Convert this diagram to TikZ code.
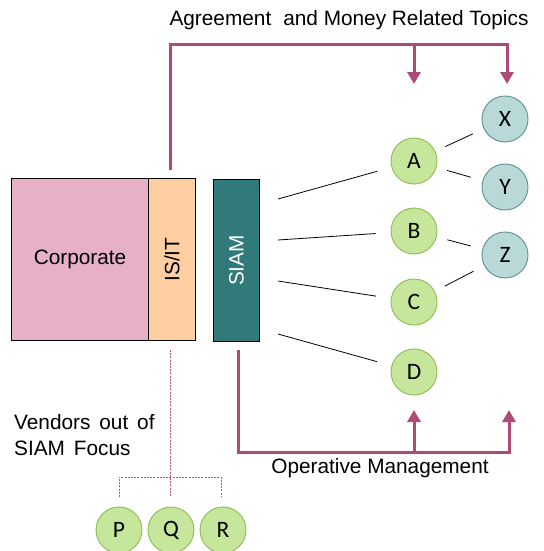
\documentclass[tikz,border=0pt]{standalone}
\usepackage{fontspec}
\setmainfont{Liberation Sans}
\newfontfamily\circfont{Carlito}
\usetikzlibrary{arrows.meta}
\definecolor{corpc}{HTML}{E6B0C6}
\definecolor{isitc}{HTML}{FFCFA3}
\definecolor{siamc}{HTML}{31797A}
\definecolor{greenf}{HTML}{C6E69C}
\definecolor{greend}{HTML}{8DBA55}
\definecolor{bluef}{HTML}{B9D8D8}
\definecolor{blued}{HTML}{5F8F90}
\definecolor{magc}{HTML}{AE4A76}
\definecolor{dashc}{HTML}{C0507E}
\tikzset{
  txt/.style={font=\fontsize{20.8}{26}\selectfont, inner sep=0pt},
  boxc/.style={draw=black, line width=1.1pt, anchor=north west, inner sep=0pt},
  gcirc/.style={circle, draw=greend, fill=greenf, line width=0.9pt, minimum size=46pt, inner sep=0pt, font=\circfont\fontsize{23.5}{23.5}\selectfont},
  bcirc/.style={circle, draw=blued, fill=bluef, line width=0.9pt, minimum size=46pt, inner sep=0pt, font=\circfont\fontsize{23.5}{23.5}\selectfont},
  thin/.style={draw=black, line width=0.8pt},
  mag/.style={draw=magc, line width=3pt, -{Triangle[width=13pt,length=12pt]}},
  vdash/.style={draw=dashc, line width=0.7pt, dash pattern=on 2pt off 1.2pt},
}
\begin{document}
\begin{tikzpicture}[x=1pt,y=-1pt]
\useasboundingbox (0,0) rectangle (543,551);
% boxes
\node[boxc, fill=corpc, minimum width=137pt, minimum height=162pt] (corp) at (11,178) {};
\node[txt] at (corp.center) {Corporate};
\node[boxc, fill=isitc, minimum width=47pt, minimum height=162pt] (isit) at (148,178) {};
\node[txt, rotate=90] at (isit.center) {IS/IT};
\node[boxc, fill=siamc, minimum width=46pt, minimum height=162pt] (siam) at (213,179) {};
\node[txt, rotate=90, text=white] at (siam.center) {SIAM};
% circles
\node[gcirc] (A) at (414,161) {A};
\node[gcirc] (B) at (414,231) {B};
\node[gcirc] (C) at (414,302) {C};
\node[gcirc] (D) at (414,372) {D};
\node[bcirc] (X) at (505,119) {X};
\node[bcirc] (Y) at (505,187) {Y};
\node[bcirc] (Z) at (505,255) {Z};
\node[gcirc] (P) at (119,530) {P};
\node[gcirc] (Q) at (171,530) {Q};
\node[gcirc] (R) at (223,530) {R};
% SIAM to A-D
\coordinate (s1) at (278,199);
\coordinate (s2) at (278,240);
\coordinate (s3) at (278,281);
\coordinate (s4) at (278,334);
\draw[thin, shorten >=15pt] (s1) -- (A);
\draw[thin, shorten >=15pt] (s2) -- (B);
\draw[thin, shorten >=15pt] (s3) -- (C);
\draw[thin, shorten >=15pt] (s4) -- (D);
% A-D to X-Z
\draw[thin, shorten <=11pt, shorten >=12pt] (A) -- (X);
\draw[thin, shorten <=11pt, shorten >=12pt] (A) -- (Y);
\draw[thin, shorten <=11pt, shorten >=12pt] (B) -- (Z);
\draw[thin, shorten <=11pt, shorten >=12pt] (C) -- (Z);
% top magenta
\coordinate (t0) at (170,170);
\coordinate (tc) at (170,45);
\coordinate (tm) at (414,45);
\coordinate (ta) at (414,84);
\coordinate (tx) at (507,84);
\draw[mag] (t0) -- (tc) -| (tx);
\draw[mag] (tm) -- (ta);
% bottom magenta
\coordinate (b0) at (238,350);
\coordinate (bz) at (509,452);
\coordinate (bzt) at (509,410);
\coordinate (bm) at (414,452);
\coordinate (bmt) at (414,410);
\draw[mag] (b0) |- (bz) -- (bzt);
\draw[mag] (bm) -- (bmt);
% dashed vendor links
\coordinate (v0) at (170,350);
\coordinate (v1) at (170,497);
\coordinate (vp) at (119,477);
\coordinate (vr) at (221,477);
\coordinate (vpe) at (119,497);
\coordinate (vre) at (221,497);
\draw[vdash] (v0) -- (v1);
\draw[vdash] (vpe) -- (vp) -- (vr) -- (vre);
% texts
\node[txt] (ttop) at (349,20) {Agreement\hspace{0.3em} and Money Related Topics};
\node[txt] (tbot) at (380,468) {Operative Management};
\node[txt, align=left, anchor=west] (tvend) at (14,435) {Vendors\hspace{0.15em} out\hspace{0.15em} of\\SIAM\hspace{0.15em} Focus};
\end{tikzpicture}
\end{document}
